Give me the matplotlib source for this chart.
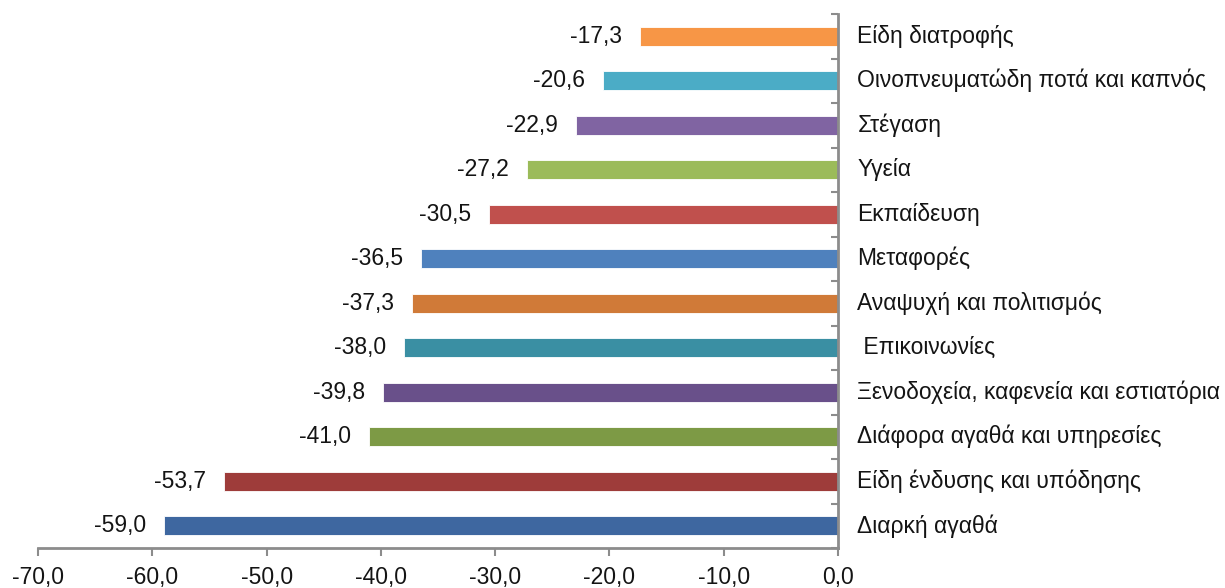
import matplotlib
matplotlib.use("Agg")
import matplotlib.pyplot as plt

plt.rcParams['font.family'] = ['Liberation Sans', 'DejaVu Sans']

categories = [
    "Είδη διατροφής",
    "Οινοπνευματώδη ποτά και καπνός",
    "Στέγαση",
    "Υγεία",
    "Εκπαίδευση",
    "Μεταφορές",
    "Αναψυχή και πολιτισμός",
    " Επικοινωνίες",
    "Ξενοδοχεία, καφενεία και εστιατόρια",
    "Διάφορα αγαθά και υπηρεσίες",
    "Είδη ένδυσης και υπόδησης",
    "Διαρκή αγαθά",
]
values = [-17.3, -20.6, -22.9, -27.2, -30.5, -36.5, -37.3, -38.0, -39.8, -41.0, -53.7, -59.0]
colors = [
    "#F79646", "#4BACC6", "#8064A2", "#9BBB59", "#C0504D", "#4F81BD",
    "#D07A38", "#3A8FA3", "#69508A", "#7D9A45", "#9E3C3A", "#3E67A0",
]
xticks = [-70, -60, -50, -40, -30, -20, -10, 0]

FS = 16.5
TXT = "#141414"
AXC = "#8c8c8c"

fig = plt.figure(figsize=(12.25, 5.88), dpi=100)
ax = fig.add_axes([38 / 1225, 1 - 548 / 588, 800 / 1225, 534 / 588])

n = len(categories)
ypos = [n - 1 - i for i in range(n)]
ax.barh(ypos, values, height=0.43, color=colors, edgecolor="white", linewidth=0.6)

for y, v in zip(ypos, values):
    ax.annotate(f"{v:.1f}".replace(".", ","), xy=(v, y), xytext=(-13, 0),
                textcoords="offset points", ha="right", va="center",
                fontsize=FS, color=TXT)

ax.set_xlim(-70, 0)
ax.set_ylim(-0.5, n - 0.5)

ax.set_xticks(xticks)
ax.set_xticklabels([f"{t:.1f}".replace(".", ",") for t in xticks], fontsize=FS, color=TXT)

# category boundaries carry the ticks on the right-hand axis, pointing toward the bars
ax.set_yticks([i - 0.5 for i in range(n + 1)])
ax.set_yticklabels([])
ax.yaxis.tick_right()
ax.tick_params(axis="y", direction="in", length=5, color=AXC, width=1.5, right=True, left=False)
ax.tick_params(axis="x", direction="out", length=6, color=AXC, width=1.5, pad=7)

for y, name in zip(ypos, categories):
    ax.annotate(name, xy=(0, y), xytext=(14, 0), textcoords="offset points",
                ha="left", va="center", fontsize=FS, color=TXT,
                annotation_clip=False)

for side in ("top", "left"):
    ax.spines[side].set_visible(False)
for side in ("right", "bottom"):
    ax.spines[side].set_color(AXC)
    ax.spines[side].set_linewidth(2)

fig.savefig("out.png", dpi=100, facecolor="white")
